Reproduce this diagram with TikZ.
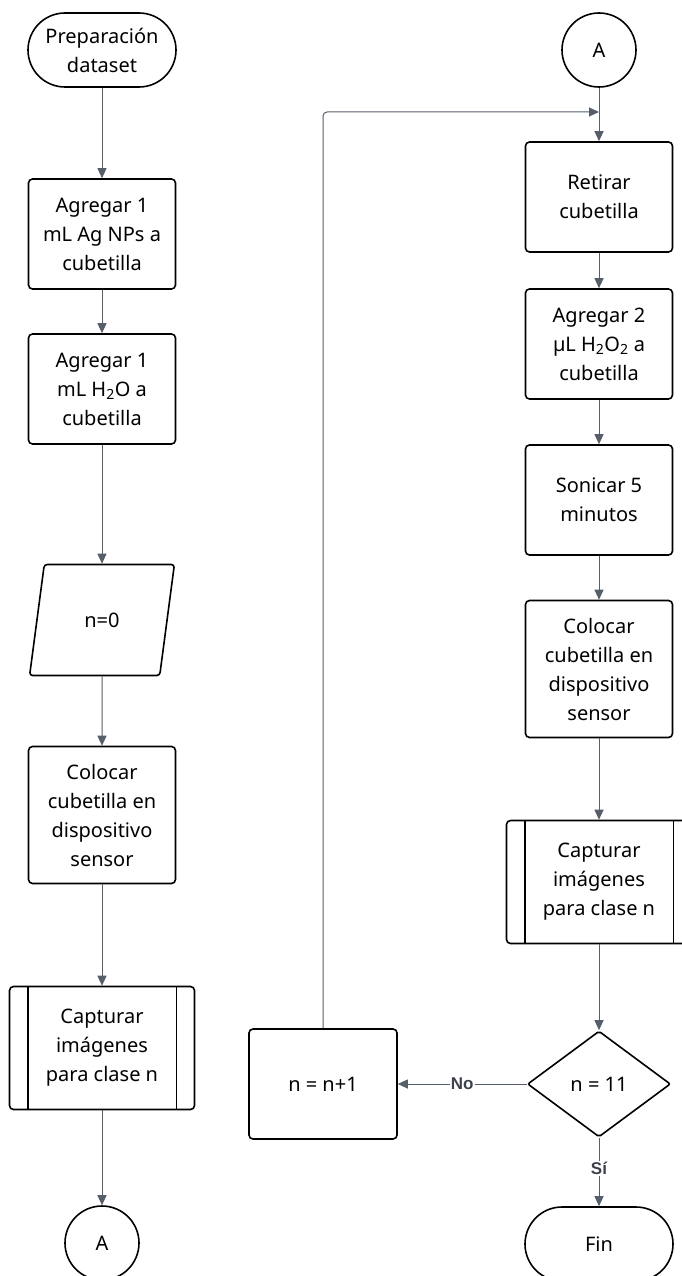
\documentclass[tikz,border=0pt]{standalone}
\usepackage{fontspec}
\setmainfont{Noto Sans}
\newfontfamily\labelfont{Liberation Sans}
\usepackage{tikz}
\usetikzlibrary{arrows.meta, shapes.geometric}
\definecolor{linegray}{RGB}{86,94,106}
\definecolor{labelgray}{RGB}{60,66,76}

\begin{document}
\begin{tikzpicture}[x=1pt, y=-1pt,
  font=\fontsize{20}{29}\selectfont,
  terminal/.style={rectangle, draw, line width=1.6pt, rounded corners=37pt, minimum width=148pt, minimum height=74pt, align=center},
  process/.style={rectangle, draw, line width=1.6pt, rounded corners=4pt, minimum width=147pt, minimum height=110pt, align=center},
  subproc/.style={rectangle, draw, line width=1.6pt, rounded corners=4pt, minimum width=185pt, minimum height=123pt, align=center},
  datain/.style={trapezium, trapezium left angle=76, trapezium right angle=104, trapezium stretches=true, draw, line width=1.6pt, rounded corners=3pt, minimum width=145pt, minimum height=111pt},
  decision/.style={diamond, draw, line width=1.6pt, rounded corners=2pt, inner sep=0pt, minimum width=143pt, minimum height=106pt},
  connector/.style={circle, draw, line width=1.6pt, minimum size=74pt},
  arrow/.style={-{Triangle[length=10pt, width=9pt]}, linegray, line width=1pt},
  edgelabel/.style={fill=white, inner sep=1pt, text=labelgray, font=\labelfont\bfseries\fontsize{17}{19}\selectfont}
]
\useasboundingbox (0,0) rectangle (682,1276);
% left column
\node[terminal] (start) at (102,50) {Preparación\\dataset};
\node[process] (addnp) at (102,234) {Agregar 1\\mL Ag NPs a\\cubetilla};
\node[process] (addwater) at (102,389) {Agregar 1\\mL H\textsubscript{2}O a\\cubetilla};
\node[datain] (init) at (102,620) {n=0};
\node[process, minimum height=137pt] (place) at (102,815) {Colocar\\cubetilla en\\dispositivo\\sensor};
\node[subproc] (capture) at (102,1048) {Capturar\\imágenes\\para clase n};
\draw[line width=1.6pt] ([xshift=19pt]capture.north west) -- ([xshift=19pt]capture.south west);
\draw[line width=1.6pt] ([xshift=-19pt]capture.north east) -- ([xshift=-19pt]capture.south east);
\node[connector] (conA) at (102,1243) {A};
% right column
\node[connector] (conB) at (599,50) {A};
\coordinate (merge) at (599,112);
\node[process] (remove) at (599,197) {Retirar\\cubetilla};
\node[process] (addper) at (599,344) {Agregar 2\\µL H\textsubscript{2}O\textsubscript{2} a\\cubetilla};
\node[process] (sonic) at (599,500) {Sonicar 5\\minutos};
\node[process, minimum height=137pt] (place2) at (599,669) {Colocar\\cubetilla en\\dispositivo\\sensor};
\node[subproc] (capture2) at (599,882) {Capturar\\imágenes\\para clase n};
\draw[line width=1.6pt] ([xshift=19pt]capture2.north west) -- ([xshift=19pt]capture2.south west);
\draw[line width=1.6pt] ([xshift=-19pt]capture2.north east) -- ([xshift=-19pt]capture2.south east);
\node[decision] (check) at (599,1084) {n = 11};
\node[process, minimum width=148pt] (incr) at (323,1084) {n = n+1};
\node[terminal] (finish) at (599,1244) {Fin};
% connectors
\draw[arrow] (start) -- (addnp);
\draw[arrow] (addnp) -- (addwater);
\draw[arrow] (addwater) -- (init);
\draw[arrow] (init) -- (place);
\draw[arrow] (place) -- (capture);
\draw[arrow] (capture) -- (conA);
\draw[arrow] (conB) -- (remove);
\draw[arrow] (remove) -- (addper);
\draw[arrow] (addper) -- (sonic);
\draw[arrow] (sonic) -- (place2);
\draw[arrow] (place2) -- (capture2);
\draw[arrow] (capture2) -- (check);
\draw[arrow] (check) -- node[edgelabel] {No} (incr);
\draw[arrow] (check) -- node[edgelabel, pos=0.45] {Sí} (finish);
\draw[arrow, rounded corners=4pt] (incr.north) |- (merge);
\end{tikzpicture}
\end{document}
